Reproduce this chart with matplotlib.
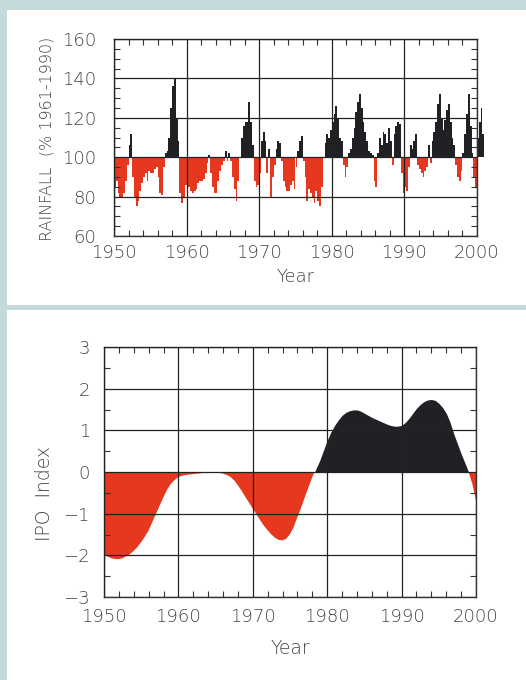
import numpy as np
import matplotlib
matplotlib.use("Agg")
import matplotlib.pyplot as plt
from matplotlib.patches import Rectangle
from matplotlib.ticker import MultipleLocator

# quarterly rainfall, % of 1961-1990 mean, 1950.0 .. 2000.75
rain_pct = [
    85, 88, 82, 80,    80, 82, 88, 96,    106, 112, 90, 80,   75, 78, 83, 87,
    90, 92, 88, 93,    92, 92, 94, 95,    90, 82, 81, 95,     102, 103, 110, 125,
    136, 140, 120, 108, 82, 77, 80, 86,
    85, 85, 83, 82,    83, 84, 87, 88,    88, 89, 92, 97,     101, 92, 85, 82,
    82, 88, 93, 96,    98, 103, 98, 102,  98, 90, 84, 78,     88, 100, 110, 116,
    118, 118, 128, 118, 106, 88, 85, 86,
    92, 108, 113, 108, 92, 104, 80, 90,   96, 104, 108, 107,  98, 88, 85, 83,
    83, 86, 88, 84,    95, 103, 108, 111, 98, 90, 78, 84,     82, 80, 77, 83,
    78, 75, 85, 100,   107, 112, 110, 114,
    118, 122, 126, 120, 110, 108, 96, 90, 95, 102, 104, 110,  115, 123, 128, 132,
    125, 118, 113, 108, 103, 102, 101, 88, 85, 102, 110, 106, 113, 112, 107, 115,
    108, 96, 112, 116, 118, 117, 92, 82,
    85, 83, 95, 106,   104, 108, 112, 96, 94, 92, 90, 93,     95, 106, 97, 108,
    113, 118, 127, 132, 120, 114, 119, 124, 127, 118, 110, 106, 96, 90, 88, 93,
    102, 112, 122, 132, 116, 102, 90, 85,
    110, 118, 125, 112,
]
rain_years = 1950 + np.arange(len(rain_pct)) / 4.0

# IPO index, half-yearly 1950.0 .. 2000.0
ipo_index = [
    -1.97, -2.03, -2.07, -2.09, -2.09, -2.07, -2.02, -1.97, -1.89, -1.80,
    -1.68, -1.55, -1.40, -1.20, -1.00, -0.80, -0.60, -0.42, -0.28, -0.19,
    -0.12, -0.09, -0.07, -0.06, -0.05, -0.04, -0.03, -0.02, -0.02, -0.01,
    -0.01, -0.02, -0.04, -0.07, -0.12, -0.20, -0.32, -0.45, -0.60, -0.74,
    -0.88, -1.02, -1.16, -1.29, -1.40, -1.50, -1.58, -1.63, -1.64, -1.60,
    -1.49, -1.32, -1.08, -0.85, -0.60, -0.36, -0.12, 0.08, 0.28, 0.52,
    0.76, 0.96, 1.12, 1.25, 1.36, 1.43, 1.47, 1.49, 1.49, 1.46,
    1.41, 1.36, 1.31, 1.27, 1.23, 1.19, 1.15, 1.12, 1.10, 1.10,
    1.12, 1.19, 1.29, 1.41, 1.53, 1.62, 1.69, 1.73, 1.74, 1.72,
    1.65, 1.55, 1.41, 1.20, 0.92, 0.68, 0.44, 0.22, 0.00, -0.28,
    -0.68,
]
ipo_years = 1950 + np.arange(len(ipo_index)) / 2.0

BG = '#c3d9da'
RED = '#e6371f'
DARK = '#1f2124'
TXT = '#444444'

fig = plt.figure(figsize=(5.26, 6.8), dpi=100)
fig.patch.set_facecolor(BG)
fig.add_artist(Rectangle((7/526, 1-305/680), 1, 295/680, transform=fig.transFigure,
                         facecolor='white', edgecolor='none', zorder=0))
fig.add_artist(Rectangle((7/526, 0), 1, 1-310/680, transform=fig.transFigure,
                         facecolor='white', edgecolor='none', zorder=0))

font = dict(fontweight='light', color=TXT)


def style_axes(ax, xminor, yminor, xpad, ypad):
    ax.set_facecolor('none')
    ax.xaxis.set_major_locator(MultipleLocator(10))
    ax.xaxis.set_minor_locator(MultipleLocator(xminor))
    ax.yaxis.set_minor_locator(MultipleLocator(yminor))
    ax.tick_params(which='both', direction='in', top=True, right=True,
                   colors='#333333', labelcolor=TXT, labelsize=13)
    ax.tick_params(axis='x', which='major', length=0, pad=xpad)
    ax.tick_params(axis='y', which='major', length=0, pad=ypad)
    ax.tick_params(which='minor', length=4, width=0.8)
    ax.grid(True, which='major', color='#222222', lw=0.9, zorder=5)
    ax.set_axisbelow(False)
    for s in ax.spines.values():
        s.set_color('#333333')
        s.set_linewidth(1.0)
    for lab in ax.get_xticklabels() + ax.get_yticklabels():
        lab.set_fontweight('light')


# top: rainfall
ax1 = fig.add_axes([114/526, 1-236/680, 363/526, 197/680])
vals = np.array(rain_pct, dtype=float)
cols = [DARK if v >= 100 else RED for v in vals]
ax1.bar(rain_years, vals - 100, bottom=100, width=0.25, align='edge',
        color=cols, edgecolor='none', zorder=2, clip_on=False)
ax1.set_xlim(1950, 2000)
ax1.set_ylim(60, 160)
ax1.yaxis.set_major_locator(MultipleLocator(20))
style_axes(ax1, 2, 5, 6, 13)
ax1.set_xlabel('Year', fontsize=13, **font)
ax1.xaxis.set_label_coords(0.5, -0.208)
ax1.xaxis.label.set_va('center')
ax1.set_ylabel('RAINFALL  (% 1961-1990)', fontsize=11.5, **font)
ax1.yaxis.set_label_coords(-0.185, 0.495)
ax1.yaxis.label.set_va('center')

# bottom: IPO
ax2 = fig.add_axes([104/526, 1-597/680, 372/526, 250/680])
y = np.array(ipo_index)
ax2.fill_between(ipo_years, 0, y, where=y >= 0, interpolate=True, color=DARK, lw=0, zorder=2)
ax2.fill_between(ipo_years, 0, y, where=y <= 0, interpolate=True, color=RED, lw=0, zorder=2)
ax2.set_xlim(1950, 2000)
ax2.set_ylim(-3, 3)
ax2.set_yticks(range(-3, 4))
ax2.set_yticklabels([str(v).replace('-', '\u2212') for v in range(-3, 4)])
style_axes(ax2, 2, 0.5, 8, 10)
ax2.set_xlabel('Year', fontsize=13.5, **font)
ax2.xaxis.set_label_coords(0.5, -0.204)
ax2.xaxis.label.set_va('center')
ax2.set_ylabel('IPO  Index', fontsize=13.5, **font)
ax2.yaxis.set_label_coords(-0.159, 0.414)
ax2.yaxis.label.set_va('center')

fig.savefig('out.png', dpi=100, facecolor=BG)
